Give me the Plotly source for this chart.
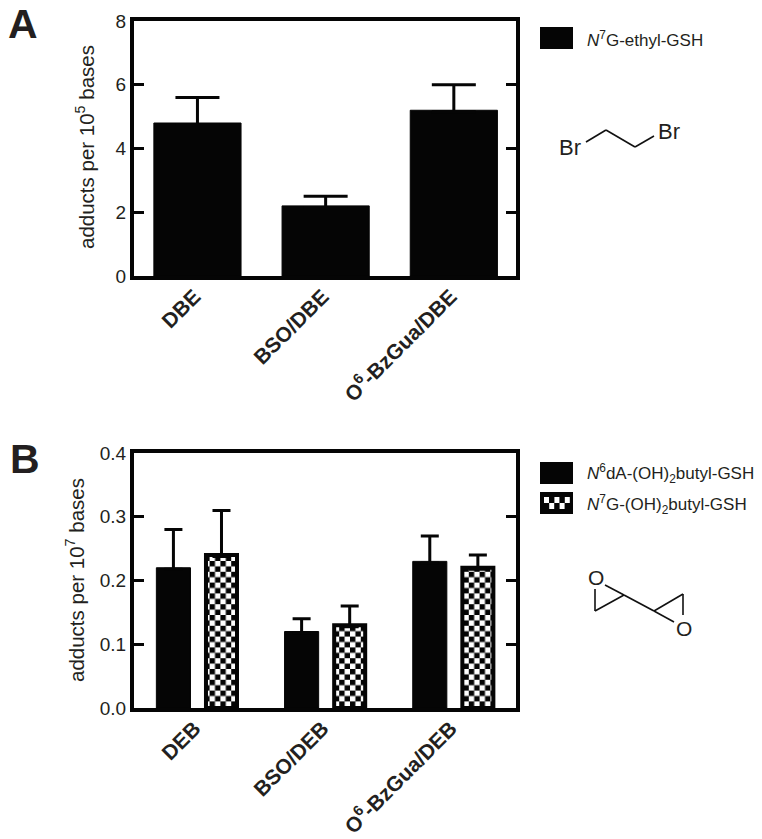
import plotly.graph_objects as go

W, H = 762, 839
FONT = "Liberation Sans"
INK = "#231f20"

cats_a = ["DBE", "BSO/DBE", "O<sup>6</sup>-BzGua/DBE"]
vals_a = [4.8, 2.2, 5.2]
errs_a = [0.8, 0.3, 0.8]
cats_b = ["DEB", "BSO/DEB", "O<sup>6</sup>-BzGua/DEB"]
vals_b1 = [0.22, 0.12, 0.23]
errs_b1 = [0.06, 0.02, 0.04]
vals_b2 = [0.24, 0.13, 0.22]
errs_b2 = [0.07, 0.03, 0.02]
# lower whisker only long enough to tuck its cap inside the bar top
tuck_a = [0.05, 0.05, 0.05]
tuck_b = [0.0025, 0.0025, 0.0025]
ticks_a = [0, 2, 4, 6, 8]
ticks_b = [0.0, 0.1, 0.2, 0.3, 0.4]
name_a = "<i>N</i><sup>7</sup>G-ethyl-GSH"
name_b1 = "<i>N</i><sup>6</sup>dA-(OH)<sub>2</sub>butyl-GSH"
name_b2 = "<i>N</i><sup>7</sup>G-(OH)<sub>2</sub>butyl-GSH"


def px(x):
    return x / W


def py(y):
    return 1 - y / H


fig = go.Figure()
fig.add_trace(go.Bar(
    x=cats_a, y=vals_a, width=0.68, name=name_a, xaxis="x", yaxis="y",
    marker=dict(color="#050505", line=dict(color="#050505", width=1)),
    error_y=dict(type="data", symmetric=False, array=errs_a, arrayminus=tuck_a,
                 color="#050505", thickness=3, width=22),
))
fig.add_trace(go.Bar(
    x=cats_b, y=vals_b1, width=0.266, name=name_b1, xaxis="x2", yaxis="y2",
    marker=dict(color="#050505", line=dict(color="#050505", width=1)),
    error_y=dict(type="data", symmetric=False, array=errs_b1, arrayminus=tuck_b,
                 color="#050505", thickness=3, width=9),
))
fig.add_trace(go.Bar(
    x=cats_b, y=vals_b2, width=0.242, name=name_b2, xaxis="x2", yaxis="y2",
    marker=dict(color="white", line=dict(color="#050505", width=4),
                pattern=dict(path="M0,0H5.4V5.4H0Z M5.4,5.4H10.8V10.8H5.4Z", size=10.8,
                             fgcolor="#050505", bgcolor="white", solidity=1, fillmode="replace")),
    error_y=dict(type="data", symmetric=False, array=errs_b2, arrayminus=tuck_b,
                 color="#050505", thickness=3, width=9),
))

common_y = dict(showline=True, mirror="ticks", linecolor="#050505", linewidth=4,
                ticks="inside", ticklen=10, tickwidth=3, tickcolor="#050505",
                showgrid=False, zeroline=False, automargin=False,
                tickfont=dict(family=FONT, size=19, color=INK))
common_x = dict(showline=True, mirror=True, linecolor="#050505", linewidth=4, ticks="",
                showgrid=False, zeroline=False, tickangle=-45, range=[-0.495, 2.485],
                automargin=False, ticklabelstandoff=-4, ticklabelshift=-3,
                tickfont=dict(family=FONT, size=21, color=INK, weight="bold"))
dom_x = [px(134), px(516)]

annots = [
    dict(text="<b>A</b>", x=px(6), y=py(23.5), font=dict(size=41, color=INK), xanchor="left"),
    dict(text="<b>B</b>", x=px(8), y=py(459), font=dict(size=41, color=INK), xanchor="left"),
    dict(text="adducts per 10<sup>5</sup> bases", x=px(85), y=py(147), textangle=-90,
         font=dict(size=20.5, color=INK)),
    dict(text="adducts per 10<sup>7</sup> bases", x=px(75), y=py(580), textangle=-90,
         font=dict(size=20.5, color=INK)),
    dict(text=name_a, x=px(585), y=py(39), font=dict(size=17, color=INK), xanchor="left"),
    dict(text=name_b1, x=px(585), y=py(473), font=dict(size=17, color=INK), xanchor="left"),
    dict(text=name_b2, x=px(585), y=py(504), font=dict(size=17, color=INK), xanchor="left"),
    dict(text="Br", x=px(570), y=py(148), font=dict(size=22, color=INK)),
    dict(text="Br", x=px(669), y=py(131), font=dict(size=22, color=INK)),
    dict(text="O", x=px(596), y=py(577), font=dict(size=21, color=INK)),
    dict(text="O", x=px(684), y=py(628), font=dict(size=21, color=INK)),
]
for a in annots:
    a.update(xref="paper", yref="paper", showarrow=False, yanchor="middle")
    a.setdefault("xanchor", "center")
    a["font"]["family"] = FONT

shapes = []


def rect(x0, y0, x1, y1, color):
    shapes.append(dict(type="rect", xref="paper", yref="paper", x0=px(x0), x1=px(x1),
                       y0=py(y0), y1=py(y1), fillcolor=color, line=dict(width=0)))


def stroke(x0, y0, x1, y1):
    shapes.append(dict(type="line", xref="paper", yref="paper", x0=px(x0), x1=px(x1),
                       y0=py(y0), y1=py(y1), line=dict(color="#111111", width=1.6)))


# legend swatches
rect(540, 27, 573, 49, "#050505")
rect(540, 462, 573, 484, "#050505")
rect(540, 492, 573, 514, "#050505")
for row in range(2):
    for col in range(5):
        if (row + col) % 2 == 0:
            rect(544 + col * 5.2, 497 + row * 6, 549 + col * 5.2, 503 + row * 6, "white")

# 1,2-dibromoethane
stroke(586, 142, 606, 130)
stroke(606, 130, 635, 147)
stroke(635, 147, 654, 136)
# diepoxybutane
stroke(605, 585, 624, 595)
stroke(595, 589, 595, 611)
stroke(595, 611, 624, 595)
stroke(624, 595, 654, 611)
stroke(654, 611, 683, 594)
stroke(683, 594, 683, 615)
stroke(654, 611, 674, 622)

fig.update_layout(
    width=W, height=H, margin=dict(l=0, r=0, t=0, b=0),
    paper_bgcolor="white", plot_bgcolor="white", showlegend=False,
    barmode="group", bargap=0.25, bargroupgap=0.27,
    xaxis=dict(domain=dom_x, anchor="y", **common_x),
    yaxis=dict(domain=[py(276), py(21)], anchor="x", range=[0, 8], tickvals=ticks_a,
               ticktext=[str(t) for t in ticks_a], **common_y),
    xaxis2=dict(domain=dom_x, anchor="y2", **common_x),
    yaxis2=dict(domain=[py(708), py(453)], anchor="x2", range=[0, 0.4], tickvals=ticks_b,
                ticktext=[f"{t:.1f}" for t in ticks_b], **common_y),
    annotations=annots, shapes=shapes,
)
fig.write_html("out.html", post_script="document.body.style.margin='0';",
               config=dict(displayModeBar=False))
